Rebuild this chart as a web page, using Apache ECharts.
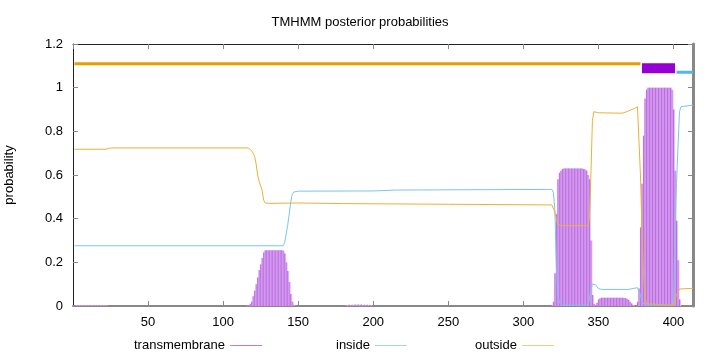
<!DOCTYPE html>
<html>
<head>
<meta charset="utf-8">
<script src="https://cdn.jsdelivr.net/npm/echarts@6/dist/echarts.min.js"></script>
<style>
  html, body { margin: 0; padding: 0; background: #fff; }
  #chart { width: 720px; height: 352px; }
</style>
</head>
<body>
<div id="chart"></div>
<script>
// posterior probability of a transmembrane helix, per residue [residue, p]
const transmembrane = [
  [2, 0.004], [4, 0.004], [6, 0.004], [8, 0.004], [10, 0.004], [12, 0.004], [14, 0.004], [16, 0.004], [18, 0.004], [20, 0.004], [22, 0.003],
  [182, 0.005], [184, 0.006], [186, 0.006], [188, 0.007], [190, 0.007], [192, 0.007], [194, 0.006], [196, 0.006], [198, 0.005],
  [116, 0.003], [117, 0.005], [118, 0.01], [119, 0.02], [120, 0.045], [121, 0.07], [122, 0.1], [123, 0.13],
  [124, 0.165], [125, 0.19], [126, 0.22], [127, 0.245], [128, 0.255], [129, 0.255], [130, 0.255], [131, 0.255],
  [132, 0.255], [133, 0.255], [134, 0.255], [135, 0.255], [136, 0.255], [137, 0.255], [138, 0.255], [139, 0.255],
  [140, 0.253], [141, 0.24], [142, 0.2], [143, 0.16], [144, 0.11], [145, 0.055], [146, 0.02], [147, 0.005],
  [319, 0.005], [320, 0.02], [321, 0.15], [322, 0.42], [323, 0.58], [324, 0.61], [325, 0.62], [326, 0.628],
  [327, 0.63], [328, 0.63], [329, 0.63], [330, 0.63], [331, 0.63], [332, 0.63], [333, 0.63], [334, 0.63],
  [335, 0.63], [336, 0.63], [337, 0.63], [338, 0.63], [339, 0.63], [340, 0.628], [341, 0.625], [342, 0.62],
  [343, 0.6], [344, 0.58], [345, 0.3], [346, 0.05], [347, 0.01],
  [348, 0.005], [349, 0.015], [350, 0.03], [351, 0.035], [352, 0.038], [353, 0.038], [354, 0.038], [355, 0.038],
  [356, 0.038], [357, 0.038], [358, 0.038], [359, 0.038], [360, 0.038], [361, 0.038], [362, 0.038], [363, 0.038],
  [364, 0.038], [365, 0.038], [366, 0.038], [367, 0.037], [368, 0.035], [369, 0.033], [370, 0.028], [371, 0.02],
  [372, 0.012], [373, 0.005],
  [376, 0.02], [377, 0.08], [378, 0.36], [379, 0.56], [380, 0.78], [381, 0.95], [382, 0.99], [383, 1.0],
  [384, 1.0], [385, 1.0], [386, 1.0], [387, 1.0], [388, 1.0], [389, 1.0], [390, 1.0], [391, 1.0],
  [392, 1.0], [393, 1.0], [394, 1.0], [395, 1.0], [396, 1.0], [397, 1.0], [398, 1.0], [399, 0.99],
  [400, 0.9], [401, 0.62], [402, 0.39], [403, 0.21], [404, 0.03]
];

// posterior probability of the inside state [residue, p]
const inside = [
  [1, 0.276], [115, 0.276], [140, 0.276], [141, 0.29], [142, 0.33], [143, 0.37], [144, 0.42], [145, 0.475],
  [146, 0.51], [147, 0.522], [150, 0.526], [200, 0.527], [215, 0.531], [280, 0.533], [319, 0.534], [320, 0.52],
  [321, 0.44], [322, 0.18], [323, 0.05], [324, 0.015], [326, 0.004], [343, 0.004], [344, 0.03], [345, 0.08],
  [346, 0.1], [348, 0.098], [350, 0.08], [352, 0.076], [370, 0.076], [376, 0.084], [377, 0.08], [378, 0.05],
  [379, 0.02], [381, 0.004], [400, 0.004], [401, 0.35], [402, 0.56], [403, 0.73], [404, 0.89], [405, 0.913],
  [413, 0.92]
];

// posterior probability of the outside state [residue, p]
const outside = [
  [1, 0.718], [22, 0.718], [25, 0.724], [117, 0.724], [118, 0.72], [119, 0.71], [120, 0.7], [121, 0.685],
  [122, 0.65], [123, 0.6], [124, 0.57], [125, 0.55], [126, 0.53], [127, 0.485], [128, 0.472], [130, 0.47],
  [150, 0.472], [180, 0.469], [250, 0.466], [319, 0.463], [320, 0.455], [321, 0.43], [322, 0.4], [323, 0.375],
  [325, 0.368], [343, 0.368], [344, 0.4], [345, 0.6], [346, 0.85], [347, 0.89], [350, 0.885], [366, 0.883],
  [370, 0.893], [374, 0.905], [376, 0.912], [377, 0.905], [378, 0.6], [379, 0.35], [380, 0.15], [381, 0.04],
  [382, 0.01], [383, 0.003], [400, 0.003], [401, 0.03], [402, 0.05], [403, 0.065], [404, 0.078], [405, 0.081],
  [413, 0.081]
];

// predicted topology drawn above the curves [start, end]
const topOutside = [1, 378];
const topHelix = [379, 401];
const topInside = [402, 413];

const chart = echarts.init(document.getElementById('chart'));

const font = 'Liberation Sans, Arial, sans-serif';

const legendText = { fontFamily: font, fontSize: 13, color: '#000' };

chart.setOption({
  animation: false,
  title: {
    text: 'TMHMM posterior probabilities',
    left: 'center',
    top: 11,
    textStyle: { fontFamily: font, fontSize: 13, fontWeight: 'normal', color: '#000' }
  },
  grid: { left: 73, right: 27, top: 44, bottom: 46, outerBoundsMode: 'none' },
  legend: [
    {
      data: ['transmembrane'], left: 129, top: 334, align: 'right', icon: 'rect',
      itemWidth: 32, itemHeight: 1, itemStyle: { color: '#c07ce4' }, textStyle: legendText
    },
    {
      data: ['inside'], left: 331, top: 334, align: 'right', icon: 'rect',
      itemWidth: 32, itemHeight: 1, itemStyle: { color: '#a6d4ec' }, textStyle: legendText
    },
    {
      data: ['outside'], left: 470, top: 334, align: 'right', icon: 'rect',
      itemWidth: 32, itemHeight: 1, itemStyle: { color: '#f2ca80' }, textStyle: legendText
    }
  ],
  xAxis: [
    {
      type: 'value', min: 0, max: 413, interval: 50,
      axisLine: { onZero: false, lineStyle: { color: '#888', width: 2 } },
      axisTick: { inside: true, length: 5, lineStyle: { color: '#888' } },
      axisLabel: {
        fontFamily: font, fontSize: 13, color: '#000', margin: 10,
        showMinLabel: false, showMaxLabel: false,
        formatter: (v) => (v === 0 ? '' : v)
      },
      splitLine: { show: false }
    },
    {
      type: 'value', position: 'top', min: 0, max: 413, interval: 50,
      axisLine: { onZero: false, lineStyle: { color: '#222', width: 1 } },
      axisTick: { inside: true, length: 5, lineStyle: { color: '#888' } },
      axisLabel: { show: false },
      splitLine: { show: false }
    }
  ],
  yAxis: [
    {
      type: 'value', min: 0, max: 1.2, interval: 0.2,
      name: 'probability', nameLocation: 'middle', nameGap: 57, nameRotate: 90,
      nameTextStyle: { fontFamily: font, fontSize: 13, color: '#000' },
      axisLine: { show: true, onZero: false, lineStyle: { color: '#222', width: 1 } },
      axisTick: { show: true, inside: true, length: 5, lineStyle: { color: '#888' } },
      axisLabel: { fontFamily: font, fontSize: 13, color: '#000', margin: 10 },
      splitLine: { show: false }
    },
    {
      type: 'value', position: 'right', min: 0, max: 1.2, interval: 0.2,
      axisLine: { show: true, onZero: false, lineStyle: { color: '#888', width: 3 } },
      axisTick: { show: true, inside: true, length: 5, lineStyle: { color: '#888' } },
      axisLabel: { show: false },
      splitLine: { show: false }
    }
  ],
  series: [
    {
      name: 'tmFill',
      type: 'bar',
      data: transmembrane,
      barWidth: 2,
      itemStyle: { color: '#e3c0f3' },
      z: 1
    },
    {
      name: 'transmembrane',
      type: 'bar',
      data: transmembrane,
      barWidth: 1,
      barGap: '-100%',
      itemStyle: { color: '#bd6ce4' },
      z: 2
    },
    {
      name: 'inside',
      type: 'line',
      data: inside,
      symbol: 'none',
      itemStyle: { color: '#a6d4ec' },
      lineStyle: { color: '#7cc4ec', width: 1 },
      z: 3
    },
    {
      name: 'outside',
      type: 'line',
      data: outside,
      symbol: 'none',
      itemStyle: { color: '#f2ca80' },
      lineStyle: { color: '#ecb038', width: 1 },
      z: 4
    },
    {
      name: 'topOutside',
      type: 'line',
      data: [[topOutside[0], 1.109], [topOutside[1], 1.109]],
      symbol: 'none',
      lineStyle: { color: '#e69f00', width: 3 },
      z: 5
    },
    {
      name: 'topHelix',
      type: 'line',
      data: [[topHelix[0], 1.089], [topHelix[1], 1.089]],
      symbol: 'none',
      lineStyle: { color: '#9400d3', width: 10 },
      z: 5
    },
    {
      name: 'topInside',
      type: 'line',
      data: [[topInside[0], 1.071], [topInside[1], 1.071]],
      symbol: 'none',
      lineStyle: { color: '#56b4e9', width: 3 },
      z: 5
    }
  ]
});
</script>
</body>
</html>
